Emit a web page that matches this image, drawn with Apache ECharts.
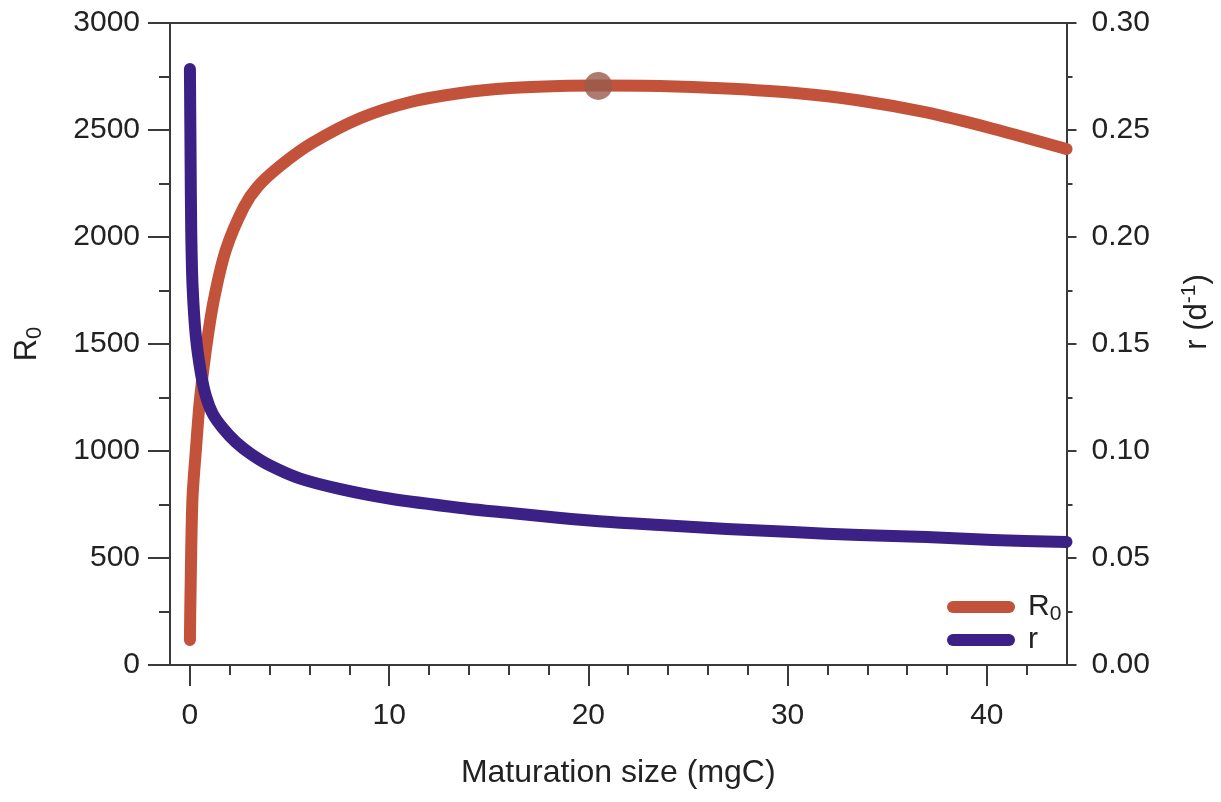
<!DOCTYPE html>
<html>
<head>
<meta charset="utf-8">
<script src="https://cdn.jsdelivr.net/npm/echarts@6/dist/echarts.min.js"></script>
<style>
html,body{margin:0;padding:0;background:#fff;}
#chart{width:1221px;height:802px;}
</style>
</head>
<body>
<div id="chart"></div>
<script>
// ---- data ----
const sizeR0 = [0, 0.025, 0.125, 0.3, 0.5, 0.8, 1.2, 1.8, 2.71, 3.4, 4.5, 6.06, 8.57, 11.07, 13.6, 16.1, 18.6, 20.5, 23.6, 26.95, 30.26, 33.6, 36.97, 40.3, 44];
const valuesR0 = [117, 304, 771, 1005, 1238, 1472, 1706, 1939, 2140, 2235, 2330, 2435, 2556, 2631, 2673, 2696, 2706, 2708, 2706, 2694, 2674, 2638, 2582, 2506, 2411];
const sizeR = [0, 0.03, 0.065, 0.135, 0.3, 0.55, 0.8, 1.15, 1.65, 2.3, 3.06, 4.06, 5.5, 7.5, 10, 13.6, 16.1, 18.6, 21.1, 23.6, 26.95, 30.26, 33.6, 36.97, 40.3, 44];
const valuesR = [0.2785, 0.2407, 0.2033, 0.1766, 0.1533, 0.1364, 0.1257, 0.1173, 0.1107, 0.1042, 0.0986, 0.093, 0.0872, 0.0823, 0.0778, 0.0734, 0.071, 0.0687, 0.0668, 0.0654, 0.0636, 0.0621, 0.0607, 0.0598, 0.0584, 0.0575];
const peakPoint = [20.5, 2706];
const xMajorTicks = [0, 10, 20, 30, 40];
const xMinorTicks = [2, 4, 6, 8, 12, 14, 16, 18, 22, 24, 26, 28, 32, 34, 36, 38, 42];
const seriesNames = ['R0', 'r'];

const FONT = '"Liberation Sans", Arial, Helvetica, sans-serif';
const TXT = '#222';
const AX = '#3a3a3a';

const pairs = (xs, ys) => xs.map((x, i) => [x, ys[i]]);

const chart = echarts.init(document.getElementById('chart'), null, {renderer: 'canvas'});
chart.setOption({
  backgroundColor: '#ffffff',
  animation: false,
  grid: {left: 170, right: 153, top: 23, bottom: 137, containLabel: false},
  legend: {
    data: seriesNames,
    orient: 'vertical',
    left: 942,
    top: 587,
    itemWidth: 68,
    itemHeight: 12,
    itemGap: 0,
    icon: 'path://M6 0H62A6 6 0 0 1 62 12H6A6 6 0 0 1 6 0Z',
    itemStyle: {borderWidth: 0},
    formatter: n => n === 'R0' ? '{m|R}{s|0}' : '{m|r}',
    textStyle: {
      padding: [0, 0, 0, 8],
      rich: {
        m: {fontFamily: FONT, fontSize: 30, color: TXT, lineHeight: 36},
        s: {fontFamily: FONT, fontSize: 21, color: TXT, lineHeight: 20, verticalAlign: 'bottom'}
      }
    }
  },
  xAxis: [
    {
      type: 'value', min: -1, max: 44, position: 'bottom',
      name: 'Maturation size (mgC)', nameLocation: 'middle', nameGap: 92,
      nameTextStyle: {fontFamily: FONT, fontSize: 32, color: TXT},
      axisLine: {show: true, onZero: false, lineStyle: {color: AX, width: 2}},
      axisTick: {show: true, customValues: xMajorTicks, length: 21, inside: false, lineStyle: {color: AX, width: 2}},
      axisLabel: {show: true, customValues: xMajorTicks, margin: 36, fontFamily: FONT, fontSize: 30, color: TXT},
      splitLine: {show: false}
    },
    {
      type: 'value', min: -1, max: 44, position: 'top',
      axisLine: {show: true, onZero: false, lineStyle: {color: AX, width: 2}},
      axisTick: {show: false}, axisLabel: {show: false}, splitLine: {show: false}
    },
    {
      type: 'value', min: -1, max: 44, position: 'bottom',
      axisLine: {show: false, onZero: false},
      axisTick: {show: true, customValues: xMinorTicks, length: 10, inside: false, lineStyle: {color: AX, width: 2}},
      axisLabel: {show: false}, splitLine: {show: false}
    }
  ],
  yAxis: [
    {
      type: 'value', min: 0, max: 3000, interval: 500, position: 'left',
      name: '{m|R}{s|0}', nameLocation: 'middle', nameGap: 124, nameRotate: 90,
      nameTextStyle: {
        rich: {
          m: {fontFamily: FONT, fontSize: 31, color: TXT, lineHeight: 38},
          s: {fontFamily: FONT, fontSize: 22, color: TXT, lineHeight: 22, verticalAlign: 'bottom'}
        }
      },
      axisLine: {show: true, onZero: false, lineStyle: {color: AX, width: 2}},
      axisTick: {show: true, length: 22, inside: false, lineStyle: {color: AX, width: 2}},
      minorTick: {show: true, splitNumber: 2, length: 11, lineStyle: {color: AX, width: 2}},
      axisLabel: {margin: 30, fontFamily: FONT, fontSize: 30, color: TXT, formatter: v => String(v)},
      splitLine: {show: false}
    },
    {
      type: 'value', min: 0, max: 0.3, interval: 0.05, position: 'right',
      name: '{m|r (d}{p|-1}{m|)}', nameLocation: 'middle', nameGap: 112, nameRotate: 90,
      nameTextStyle: {
        padding: [0, 0, 0, 64],
        rich: {
          m: {fontFamily: FONT, fontSize: 31, color: TXT, lineHeight: 38},
          p: {fontFamily: FONT, fontSize: 21, color: TXT, lineHeight: 21, verticalAlign: 'top'}
        }
      },
      axisLine: {show: true, onZero: false, lineStyle: {color: AX, width: 2}},
      axisTick: {show: true, length: 10, inside: false, lineStyle: {color: AX, width: 2}},
      minorTick: {show: true, splitNumber: 2, length: 6, lineStyle: {color: AX, width: 2}},
      axisLabel: {margin: 25, fontFamily: FONT, fontSize: 30, color: TXT, formatter: v => v.toFixed(2)},
      splitLine: {show: false}
    }
  ],
  series: [
    {
      name: 'R0', type: 'line', xAxisIndex: 0, yAxisIndex: 0,
      data: pairs(sizeR0, valuesR0),
      showSymbol: false, symbol: 'none', smooth: 0.3,
      itemStyle: {color: '#C2523A'},
      lineStyle: {color: '#C2523A', width: 12, cap: 'round', join: 'round'},
      z: 2
    },
    {
      name: 'r', type: 'line', xAxisIndex: 0, yAxisIndex: 1,
      data: pairs(sizeR, valuesR),
      showSymbol: false, symbol: 'none', smooth: 0.3,
      itemStyle: {color: '#3B2185'},
      lineStyle: {color: '#3B2185', width: 12, cap: 'round', join: 'round'},
      z: 3
    },
    {
      name: 'peak', type: 'scatter', xAxisIndex: 0, yAxisIndex: 0,
      data: [peakPoint], symbol: 'circle', symbolSize: 28,
      itemStyle: {color: '#985B4C'}, z: 4, silent: true
    }
  ]
});
</script>
</body>
</html>
